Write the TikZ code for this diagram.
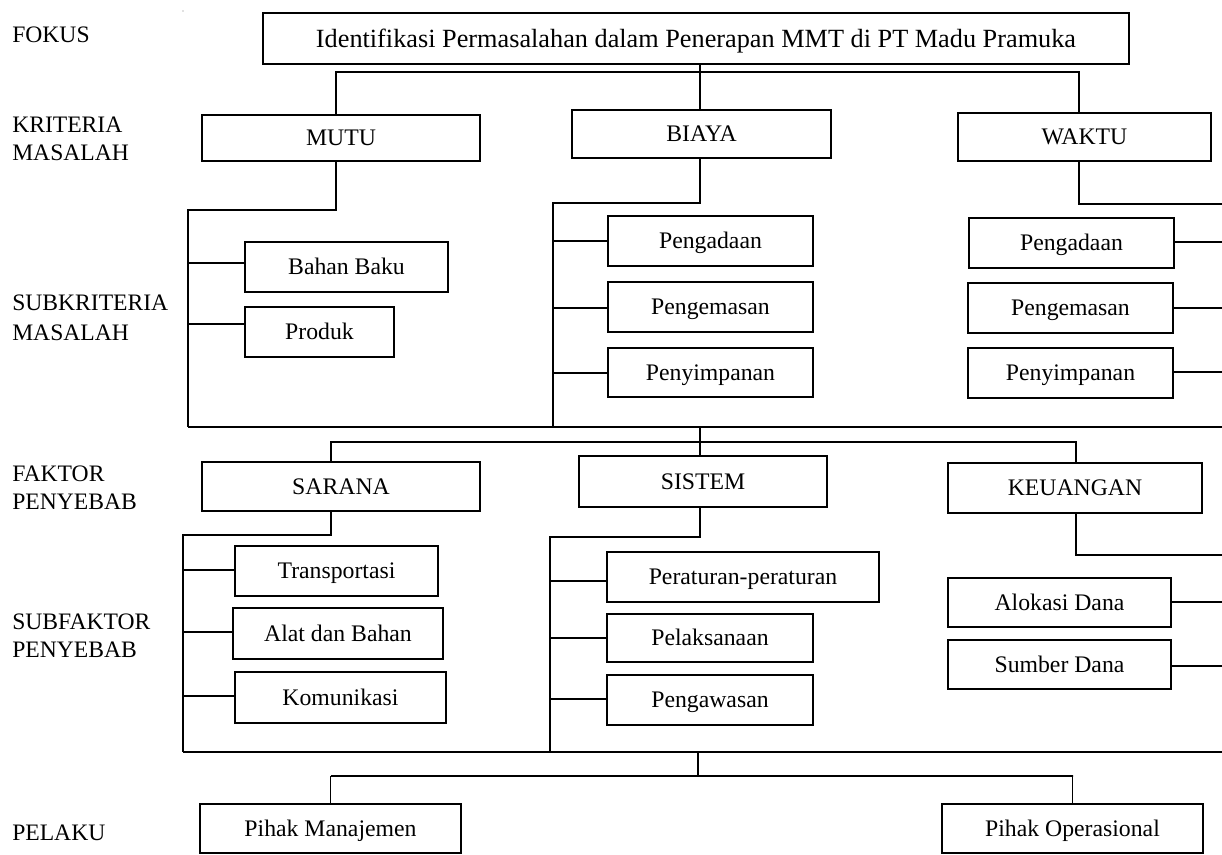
\documentclass[tikz,border=0pt]{standalone}
\usepackage{fontspec}
\setmainfont{Liberation Serif}
\tikzset{
  box/.style={draw, line width=1.2pt, inner sep=0pt, outer sep=0pt,
    text height=11.8pt, text depth=0pt, font=\fontsize{17.8}{21}\selectfont},
  topbox/.style={box, text height=13pt, font=\fontsize{19.7}{23}\selectfont},
  lbl/.style={anchor=west, inner sep=0pt, text height=11.8pt, text depth=0pt,
    font=\fontsize{17.7}{21}\selectfont},
  conn/.style={line width=1pt},
  heavy/.style={line width=1.6pt},
}
\newcommand\bnode[7][box]{\node[#1, minimum width={(#5-#3)*0.75pt}, minimum height={(#6-#4)*0.75pt}] (#2) at ({(#3+#5)/2},{(#4+#6)/2}) {#7};}
\begin{document}
\begin{tikzpicture}[x=0.75pt, y=-0.75pt]
\useasboundingbox[fill=white] (0,0) rectangle (1222,855);

% row labels
\node[lbl] (lF) at (12,35) {FOKUS};
\node[lbl] (lK1) at (12,125) {KRITERIA};
\node[lbl] (lK2) at (12,153) {MASALAH};
\node[lbl] (lS1) at (12,303) {SUBKRITERIA};
\node[lbl] (lS2) at (12,333) {MASALAH};
\node[lbl] (lP1) at (12,474) {FAKTOR};
\node[lbl] (lP2) at (12,502) {PENYEBAB};
\node[lbl] (lSF1) at (12,622) {SUBFAKTOR};
\node[lbl] (lSF2) at (12,650) {PENYEBAB};
\node[lbl] (lPL) at (12,833) {PELAKU};

\fill[gray] (183,11) circle (0.5pt);

% boxes
\bnode[topbox]{TOP}{263}{13}{1129}{64}{Identifikasi Permasalahan dalam Penerapan MMT di PT Madu Pramuka}
\bnode{MUTU}{202}{115}{480}{161}{MUTU}
\bnode{BIAYA}{572}{110}{831}{158}{BIAYA}
\bnode{WAKTU}{958}{113}{1211}{161}{WAKTU}

\bnode{BB}{245}{242}{448}{292}{Bahan Baku}
\bnode{PR}{245}{307}{394}{357}{Produk}

\bnode{BP1}{608}{216}{813}{266}{Pengadaan}
\bnode{BP2}{608}{282}{813}{332}{Pengemasan}
\bnode{BP3}{608}{348}{813}{397}{Penyimpanan}

\bnode{WP1}{969}{218}{1174}{268}{Pengadaan}
\bnode{WP2}{968}{283}{1173}{333}{Pengemasan}
\bnode{WP3}{968}{348}{1173}{398}{Penyimpanan}

\bnode{SARANA}{202}{462}{480}{511}{SARANA}
\bnode{SISTEM}{579}{456}{827}{507}{SISTEM}
\bnode{KEU}{948}{463}{1202}{513}{KEUANGAN}

\bnode{SA1}{235}{546}{438}{596}{Transportasi}
\bnode{SA2}{233}{608}{443}{659}{Alat dan Bahan}
\bnode{SA3}{235}{672}{446}{723}{Komunikasi}

\bnode{SI1}{607}{552}{879}{602}{Peraturan-peraturan}
\bnode{SI2}{607}{614}{813}{662}{Pelaksanaan}
\bnode{SI3}{607}{675}{813}{725}{Pengawasan}

\bnode{KE1}{948}{578}{1171}{627}{Alokasi Dana}
\bnode{KE2}{948}{640}{1171}{689}{Sumber Dana}

\bnode{PM}{200}{804}{461}{853}{Pihak Manajemen}
\bnode{PO}{942}{804}{1203}{853}{Pihak Operasional}

% focus -> criteria
\coordinate (jT1) at (336,72);
\coordinate (jT2) at (1079,72);
\coordinate (jTB) at (700,72);
\draw[conn] (jT1 |- MUTU.north) -- (jT1) -- (jT2) -- (jT2 |- WAKTU.north);
\draw[conn] (jTB |- TOP.south) -- (jTB |- BIAYA.north);

% MUTU group
\coordinate (mA) at (336,210);
\coordinate (mB) at (188,210);
\coordinate (mE) at (188,427);
\draw[conn] (mA |- MUTU.south) -- (mA) -- (mB) -- (mE);
\coordinate (m1) at (188,263);
\coordinate (m2) at (188,324);
\draw[conn] (m1) -- (m1 -| BB.west);
\draw[conn] (m2) -- (m2 -| PR.west);

% BIAYA group
\coordinate (bA) at (700,203);
\coordinate (bB) at (553,203);
\coordinate (bE) at (553,427);
\draw[conn] (bA |- BIAYA.south) -- (bA) -- (bB) -- (bE);
\coordinate (b1) at (553,241);
\coordinate (b2) at (553,308);
\coordinate (b3) at (553,373);
\draw[conn] (b1) -- (b1 -| BP1.west);
\draw[conn] (b2) -- (b2 -| BP2.west);
\draw[conn] (b3) -- (b3 -| BP3.west);

% WAKTU group
\coordinate (wA) at (1079,204);
\coordinate (wB) at (1222,204);
\draw[conn] (wA |- WAKTU.south) -- (wA) -- (wB);
\coordinate (w1) at (1222,242);
\coordinate (w2) at (1222,308);
\coordinate (w3) at (1222,372);
\draw[conn] (w1 -| WP1.east) -- (w1);
\draw[conn] (w2 -| WP2.east) -- (w2);
\draw[conn] (w3 -| WP3.east) -- (w3);

% bottom bar of subcriteria
\coordinate (r1L) at (188,427);
\coordinate (r1R) at (1222,427);
\draw[heavy] (r1L) -- (r1R);

% to factors
\coordinate (cA) at (700,427);
\draw[conn] (cA) -- (cA |- SISTEM.north);
\coordinate (f1) at (331,442);
\coordinate (f2) at (1076,442);
\draw[conn] (f1 |- SARANA.north) -- (f1) -- (f2) -- (f2 |- KEU.north);

% SARANA group
\coordinate (sA) at (331,535);
\coordinate (sB) at (183,535);
\coordinate (sE) at (183,752);
\draw[conn] (sA |- SARANA.south) -- (sA) -- (sB) -- (sE);
\coordinate (s1) at (183,570);
\coordinate (s2) at (183,632);
\coordinate (s3) at (183,696);
\draw[conn] (s1) -- (s1 -| SA1.west);
\draw[conn] (s2) -- (s2 -| SA2.west);
\draw[conn] (s3) -- (s3 -| SA3.west);

% SISTEM group
\coordinate (tA) at (700,537);
\coordinate (tB) at (550,537);
\coordinate (tE) at (550,752);
\draw[conn] (tA |- SISTEM.south) -- (tA) -- (tB) -- (tE);
\coordinate (t1) at (550,581);
\coordinate (t2) at (550,638);
\coordinate (t3) at (550,699);
\draw[conn] (t1) -- (t1 -| SI1.west);
\draw[conn] (t2) -- (t2 -| SI2.west);
\draw[conn] (t3) -- (t3 -| SI3.west);

% KEUANGAN group
\coordinate (kA) at (1076,555);
\coordinate (kB) at (1222,555);
\draw[conn] (kA |- KEU.south) -- (kA) -- (kB);
\coordinate (k1) at (1222,602);
\coordinate (k2) at (1222,666);
\draw[conn] (k1 -| KE1.east) -- (k1);
\draw[conn] (k2 -| KE2.east) -- (k2);

% bottom bar of subfactors
\coordinate (r2L) at (183,752);
\coordinate (r2R) at (1222,752);
\draw[heavy] (r2L) -- (r2R);

% to actors
\coordinate (pA) at (698,752);
\coordinate (pB) at (698,776);
\coordinate (p1) at (331,776);
\coordinate (p2) at (1073,776);
\draw[conn] (pA) -- (pB);
\draw[conn] (PM.north |- p1) -- (p1) -- (p2) -- (PO.north |- p2);
\draw[conn] (PM.north |- p1) -- (PM.north);
\draw[conn] (PO.north |- p2) -- (PO.north);
\end{tikzpicture}
\end{document}
